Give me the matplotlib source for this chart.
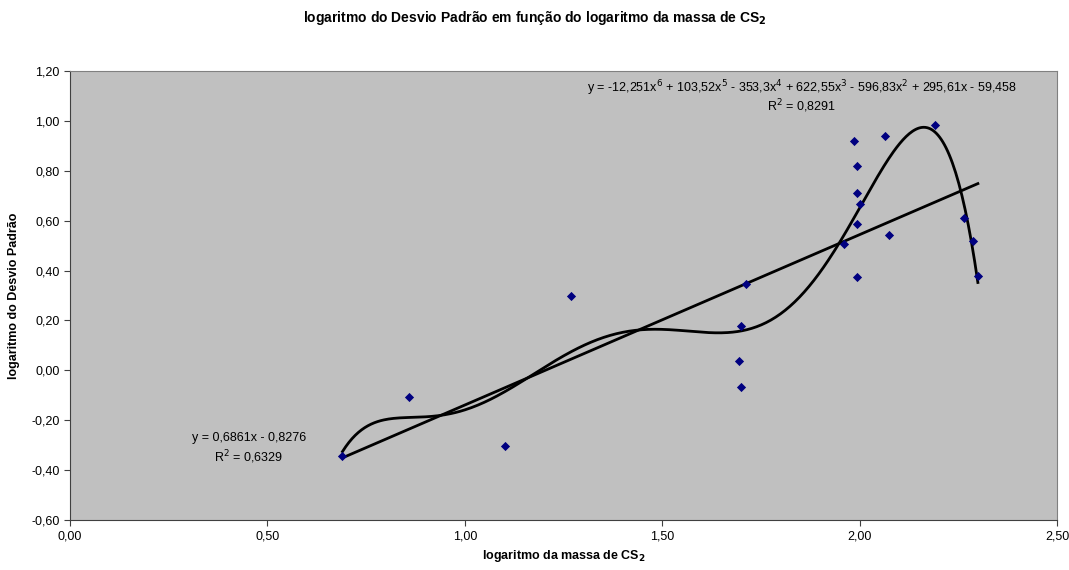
import numpy as np
import matplotlib
matplotlib.use("Agg")
import matplotlib.pyplot as plt
from matplotlib.ticker import FuncFormatter

plt.rcParams['font.family'] = ['Liberation Sans', 'DejaVu Sans']

# log of CS2 mass vs log of standard deviation
log_mass = [0.69, 0.858, 1.101, 1.268, 1.699, 1.711, 1.694, 1.699,
            1.959, 1.992, 1.992, 2.000, 1.992, 1.992, 1.985, 2.063,
            2.074, 2.190, 2.263, 2.286, 2.299]
log_sd = [-0.345, -0.108, -0.305, 0.297, 0.176, 0.345, 0.036, -0.068,
          0.505, 0.373, 0.585, 0.665, 0.709, 0.820, 0.918, 0.938,
          0.541, 0.982, 0.609, 0.517, 0.377]

# trendlines, fitted to the points like the spreadsheet does
lin_coef = np.polyfit(log_mass, log_sd, 1)
poly_coef = np.polyfit(log_mass, log_sd, 6)

fig = plt.figure(figsize=(10.69, 5.70), dpi=100)
ax = fig.add_axes([0.0655, 0.0877, 0.9235, 0.7877])
ax.set_facecolor('#C0C0C0')

xs = np.linspace(min(log_mass), max(log_mass), 400)
ax.plot(xs, np.polyval(poly_coef, xs), color='black', lw=2, zorder=2)
ax.plot(xs, np.polyval(lin_coef, xs), color='black', lw=2, zorder=2)
ax.scatter(log_mass, log_sd, marker='D', s=22, color='#000080', zorder=3, linewidths=0)

ax.set_xlim(0, 2.5)
ax.set_ylim(-0.6, 1.2)
ax.set_xticks(np.arange(0, 2.51, 0.5))
ax.set_yticks(np.arange(-0.6, 1.21, 0.2))
fmt = FuncFormatter(lambda v, p: f"{v:.2f}".replace('.', ',').replace('-0,00', '0,00'))
ax.xaxis.set_major_formatter(fmt)
ax.yaxis.set_major_formatter(fmt)
ax.tick_params(labelsize=9, direction='out', length=4, color='#404040')
for s in ax.spines.values():
    s.set_color('#808080')
ax.spines['left'].set_color('#404040')
ax.spines['bottom'].set_color('#404040')

# equation labels as printed on the original chart
ax.text(1.853, 1.13, r"y = -12,251x$^6$ + 103,52x$^5$ - 353,3x$^4$ + 622,55x$^3$ - 596,83x$^2$ + 295,61x - 59,458",
        ha='center', va='center', fontsize=9)
ax.text(1.853, 1.058, r"R$^2$ = 0,8291", ha='center', va='center', fontsize=9)
ax.text(0.453, -0.273, "y = 0,6861x - 0,8276", ha='center', va='center', fontsize=9)
ax.text(0.453, -0.349, r"R$^2$ = 0,6329", ha='center', va='center', fontsize=9)

fig.text(0.5, 0.968, r"logaritmo do Desvio Padrão em função do logaritmo da massa de CS$_\mathbf{2}$",
         ha='center', va='center', fontsize=10, fontweight='bold')
ax.set_xlabel(r"logaritmo da massa de CS$_\mathbf{2}$", fontsize=9, fontweight='bold', labelpad=4)
ax.set_ylabel("logaritmo do Desvio Padrão", fontsize=9, fontweight='bold', labelpad=8)

fig.savefig("out.png", dpi=100)
